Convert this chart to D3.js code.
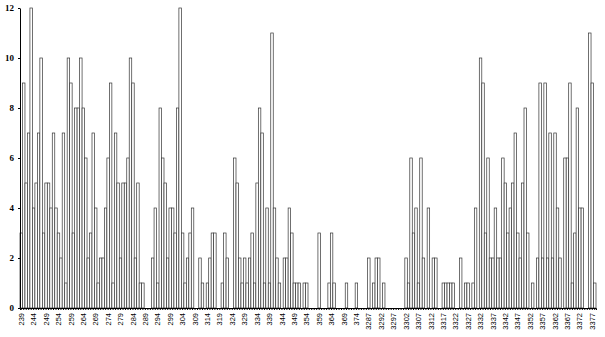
<!DOCTYPE html>
<html>
<head>
<meta charset="utf-8">
<script src="https://cdnjs.cloudflare.com/ajax/libs/d3/7.8.5/d3.min.js"></script>
<style>
  body { margin: 0; background: #fff; }
</style>
</head>
<body>
<div id="chart"></div>
<script>
// category ids: two numbered runs
var lowIds = d3.range(239, 379);
var highIds = d3.range(3287, 3379);
var ids = lowIds.concat(highIds).map(String);

// counts per id
var counts = [
  3, 9, 5, 7, 12, 4, 5, 7, 10, 3, 5, 5, 4, 7, 4, 3, 2, 7, 1, 10,
  9, 3, 8, 8, 10, 8, 6, 2, 3, 7, 4, 1, 2, 2, 4, 6, 9, 1, 7, 5,
  2, 5, 5, 6, 10, 9, 2, 5, 1, 1, 0, 0, 0, 2, 4, 1, 8, 6, 5, 2,
  4, 4, 3, 8, 12, 3, 1, 2, 3, 4, 0, 0, 2, 1, 0, 1, 2, 3, 3, 0,
  0, 1, 3, 2, 0, 0, 6, 5, 2, 1, 2, 1, 2, 3, 1, 5, 8, 7, 1, 4,
  1, 11, 4, 2, 1, 0, 2, 2, 4, 3, 1, 1, 1, 0, 1, 1, 0, 0, 0, 0,
  3, 0, 0, 0, 1, 3, 1, 0, 0, 0, 0, 1, 0, 0, 0, 1, 0, 0, 0, 0,
  2, 0, 1, 2, 2, 0, 1, 0, 0, 0, 0, 0, 0, 0, 0, 2, 1, 6, 3, 4,
  1, 6, 2, 0, 4, 0, 2, 2, 0, 0, 1, 1, 1, 1, 1, 0, 0, 2, 0, 1,
  1, 0, 1, 4, 0, 10, 9, 3, 6, 2, 2, 4, 2, 2, 6, 5, 3, 4, 5, 7,
  3, 2, 5, 8, 3, 0, 1, 0, 2, 9, 2, 9, 2, 7, 2, 7, 4, 2, 0, 6,
  6, 9, 1, 3, 8, 4, 4, 0, 0, 11, 9, 1
];
var yTicks = [0, 2, 4, 6, 8, 10, 12];

var data = ids.map(function(d, i) { return {id: d, value: counts[i]}; });

// set the dimensions and margins of the graph
var margin = {top: 8, right: 9, bottom: 29, left: 20},
    width = 605 - margin.left - margin.right,
    height = 337 - margin.top - margin.bottom;

var svg = d3.select("#chart")
    .append("svg")
    .attr("width", width + margin.left + margin.right)
    .attr("height", height + margin.top + margin.bottom)
    .append("g")
    .attr("transform", "translate(" + margin.left + "," + margin.top + ")");

// X scale
var x = d3.scaleBand()
    .range([0, width])
    .domain(ids)
    .padding(0);

// Y scale
var y = d3.scaleLinear()
    .domain([0, 12])
    .range([height, 0]);

// bars
svg.selectAll(".bar")
    .data(data)
    .enter()
    .append("rect")
      .attr("class", "bar")
      .attr("x", function(d) { return x(d.id); })
      .attr("y", function(d) { return y(d.value); })
      .attr("width", x.bandwidth())
      .attr("height", function(d) { return height - y(d.value); })
      .style("fill", "#fff")
      .style("stroke", "#333")
      .style("stroke-width", 0.7);

// X axis, every fifth id labelled
var xAxis = svg.append("g")
    .attr("transform", "translate(0," + height + ")")
    .call(d3.axisBottom(x)
      .tickSizeOuter(0)
      .tickSize(2)
      .tickFormat(function(d, i) { return i % 5 === 0 ? d : ""; }));
xAxis.select(".domain").style("stroke", "#000");
xAxis.selectAll("line").style("stroke", "#000");
xAxis.selectAll("text")
    .attr("transform", "rotate(-90)")
    .attr("x", -5)
    .attr("y", 0)
    .attr("dy", "0.35em")
    .style("text-anchor", "end")
    .style("font-family", "Liberation Sans, Arial, sans-serif")
    .style("font-size", "7.5px")
    .style("fill", "#000");

// Y axis
var yAxis = svg.append("g")
    .call(d3.axisLeft(y)
      .tickValues(yTicks)
      .tickSize(2)
      .tickSizeOuter(0)
      .tickPadding(4));
yAxis.select(".domain").style("stroke", "#000");
yAxis.selectAll("line").style("stroke", "#000");
yAxis.selectAll("text")
    .style("font-family", "Liberation Serif, Times New Roman, serif")
    .style("font-weight", "bold")
    .style("font-size", "9px")
    .style("fill", "#000");
</script>
</body>
</html>
